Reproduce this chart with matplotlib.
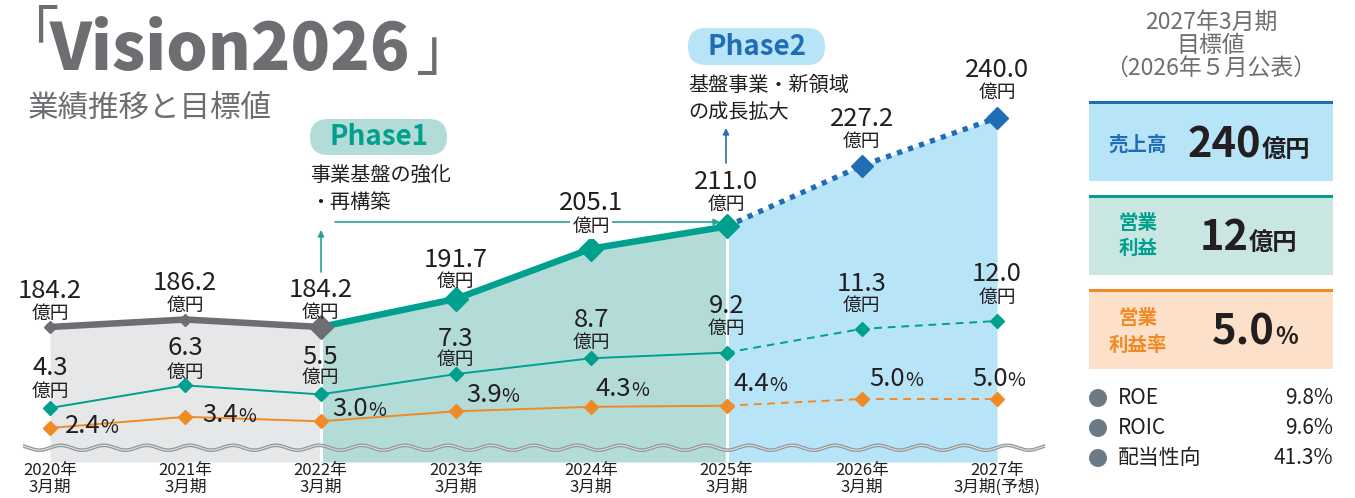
import numpy as np
import matplotlib
matplotlib.use('Agg')
import matplotlib.pyplot as plt
from matplotlib.patches import FancyBboxPatch, Rectangle, Circle
from matplotlib.transforms import IdentityTransform

plt.rcParams['font.family'] = ['Noto Sans CJK JP', 'DejaVu Sans']

W, H = 1355, 498

# data
periods = ['2020年\n3月期', '2021年\n3月期', '2022年\n3月期', '2023年\n3月期',
           '2024年\n3月期', '2025年\n3月期', '2026年\n3月期', '2027年\n3月期(予想)']
sales = [184.2, 186.2, 184.2, 191.7, 205.1, 211.0, 227.2, 240.0]
op_profit = [4.3, 6.3, 5.5, 7.3, 8.7, 9.2, 11.3, 12.0]
op_margin = [2.4, 3.4, 3.0, 3.9, 4.3, 4.4, 5.0, 5.0]

target_sales = '240'
target_profit = '12'
target_margin = '5.0'
kpi_names = ['ROE', 'ROIC', '配当性向']
kpi_values = ['9.8%', '9.6%', '41.3%']

# colours
GRAY = '#6d6e71'
TEXT = '#231f20'
TEAL = '#00a08e'
BLUE = '#1f6db4'
ORANGE = '#f08a24'
FILL_GRAY = '#e6e7e8'
FILL_TEAL = '#b3dcd8'
FILL_BLUE = '#b8e4f8'

fig = plt.figure(figsize=(W / 100, H / 100), dpi=100)
px = IdentityTransform()


def Y(p):
    return H - p


def rich(x, y, parts, ha='left'):
    """parts of different sizes on one baseline; x, y in pixels from top-left"""
    r = fig.canvas.get_renderer()
    arts = []
    for s, size, color, weight in parts:
        t = fig.text(0, 0, s, fontsize=size, color=color, fontweight=weight,
                     transform=px, va='baseline', ha='left')
        arts.append((t, t.get_window_extent(r).width))
    total = sum(w for _, w in arts)
    cx = x - {'left': 0, 'center': total / 2, 'right': total}[ha]
    for t, w in arts:
        t.set_position((cx, Y(y)))
        cx += w


# chart axes: one unit on x = one fiscal year
base = 148.2
ax = fig.add_axes([23 / W, 36 / H, 1022 / W, 462 / H])
ax.set_xlim(-27 / 135.3, 995 / 135.3)
ax.set_ylim(base, 271.4)
ax.patch.set_alpha(0)
for s in ax.spines.values():
    s.set_visible(False)
ax.set_yticks([])
ax.set_xticks(range(len(periods)), periods)
ax.tick_params(axis='x', length=0, pad=0, labelsize=12, labelcolor=TEXT)
for lab in ax.get_xticklabels():
    lab.set_linespacing(1.0)

ax_p = ax.twinx()
ax_p.set_ylim(-0.48, 40.4)
ax_p.axis('off')
ax_m = ax.twinx()
ax_m.set_ylim(-0.65, 40.79)
ax_m.axis('off')

x = np.arange(len(sales))

# areas under sales
ax.fill_between(x[:3], sales[:3], base, color=FILL_GRAY, lw=0, zorder=1)
ax.fill_between(x[2:6], sales[2:6], base, color=FILL_TEAL, lw=0, zorder=1)
ax.fill_between(x[5:], sales[5:], base, color=FILL_BLUE, lw=0, zorder=1)
ax.vlines([2, 5], base, [sales[2], sales[5]], color='white', lw=2.2, zorder=2)

# axis break wave
wx = np.linspace(-0.2, 7.35, 1500)
wy = 152.0 + 0.65 * np.sin(2 * np.pi * wx / 0.318)
ax.plot(wx, wy, color='#8f989d', lw=2.6, zorder=3)
ax.plot(wx, wy, color='#dfe2e4', lw=0.8, zorder=3)

# phase arrows (drawn in the chart so labels can sit on top)
arrow_teal = dict(arrowstyle='-|>', lw=1.2, color='#2aa196', mutation_scale=9, shrinkA=0, shrinkB=0)
arrow_blue = dict(arrowstyle='-|>', lw=1.2, color='#2a6fb0', mutation_scale=9, shrinkA=0, shrinkB=0)
ax.annotate('', xy=(321, Y(230)), xytext=(321, Y(272)), xycoords='figure pixels',
            arrowprops=arrow_teal, zorder=4)
ax.annotate('', xy=(720, Y(222)), xytext=(335, Y(222)), xycoords='figure pixels',
            arrowprops=arrow_teal, zorder=4)
ax.annotate('', xy=(726, Y(128)), xytext=(726, Y(163)), xycoords='figure pixels',
            arrowprops=arrow_blue, zorder=4)

# sales line
ax.plot(x[:3], sales[:3], color=GRAY, lw=4.7, zorder=5)
ax.plot(x[2:6], sales[2:6], color=TEAL, lw=4.7, zorder=5)
ax.plot(x[5:], sales[5:], color=BLUE, lw=3.8, ls=(0, (1, 1.2)), zorder=5)
ax.plot(x[:2], sales[:2], 'D', color=GRAY, ms=6.5, zorder=6)
ax.plot(x[2:3], sales[2:3], 'D', color=GRAY, ms=12, zorder=7)
ax.plot(x[3:6], sales[3:6], 'D', color=TEAL, ms=12, zorder=6)
ax.plot(x[6:], sales[6:], 'D', color=BLUE, ms=11.5, zorder=6)


def value_label(axis, i, v, num_lift, unit_lift, knockout=False):
    axis.annotate(f'{v:.1f}', (i, v), xytext=(0, num_lift), textcoords='offset pixels',
                  ha='center', va='baseline', fontsize=18.5, color=TEXT, zorder=8)
    bbox = dict(fc='white', ec='none', pad=1.5) if knockout else None
    axis.annotate('億円', (i, v), xytext=(0, unit_lift), textcoords='offset pixels',
                  ha='center', va='baseline', fontsize=13.5, color=TEXT, zorder=8, bbox=bbox)


sales_lift = [29, 30, 30, 32, 39, 37, 40, 41]
sales_unit = [8, 9, 9, 12, 17, 17, 19, 20]
for i, v in enumerate(sales):
    value_label(ax, i, v, sales_lift[i], sales_unit[i], knockout=(i == 4))

# operating profit
ax_p.plot(x[:6], op_profit[:6], color=TEAL, lw=1.4, zorder=5)
ax_p.plot(x[5:], op_profit[5:], color=TEAL, lw=1.4, ls=(0, (4, 3)), zorder=5)
ax_p.plot(x, op_profit, 'D', color=TEAL, ms=6.8, zorder=6)
p_lift = [33, 30, 30, 28, 31, 40, 38, 40]
p_unit = [11, 7, 11, 9, 10, 19, 18, 18]
for i, v in enumerate(op_profit):
    value_label(ax_p, i, v, p_lift[i], p_unit[i])

# operating margin
ax_m.plot(x[:6], op_margin[:6], color=ORANGE, lw=1.4, zorder=5)
ax_m.plot(x[5:], op_margin[5:], color=ORANGE, lw=1.4, ls=(0, (4, 3)), zorder=5)
ax_m.plot(x, op_margin, 'D', color=ORANGE, ms=7, zorder=6)
m_dx = [15, 17, 12, 10, 4, 7, 8, -25]
m_lift = [-5, -5, 5, 9, 11, 15, 13, 13]
for i, v in enumerate(op_margin):
    dx, dy = ax_m.transData.transform((i, v))
    rich(dx + m_dx[i], Y(dy) - m_lift[i],
         [(f'{v:.1f}', 18.5, TEXT, 'normal'), ('%', 14, TEXT, 'normal')])

# title
fig.text(0, Y(6), '「', transform=px, fontsize=42, color=GRAY, va='top', ha='left')
fig.text(50, Y(70), 'Vision2026', transform=px, fontsize=47, color=GRAY,
         fontweight='heavy', va='baseline', ha='left')
fig.text(416, Y(84), '」', transform=px, fontsize=42, color=GRAY, va='bottom', ha='left')
fig.text(28, Y(108), '業績推移と目標値', transform=px, fontsize=22, color=GRAY,
         va='center', ha='left')

# phase badges
for (x0, y0, x1, y1, fc, tc, label) in [(310, 119, 447, 155, FILL_TEAL, TEAL, 'Phase1'),
                                        (688, 28, 825, 65, FILL_BLUE, BLUE, 'Phase2')]:
    fig.add_artist(FancyBboxPatch((x0, Y(y1)), x1 - x0, y1 - y0, transform=px,
                                  boxstyle='round,pad=0,rounding_size=18', fc=fc, ec='none'))
    fig.text((x0 + x1) / 2, Y((y0 + y1) / 2), label, transform=px, fontsize=20,
             fontweight='bold', color=tc, ha='center', va='center')

fig.text(310, Y(175), '事業基盤の強化', transform=px, fontsize=14.5, color=TEXT, va='center')
fig.text(310, Y(202), '・再構築', transform=px, fontsize=14.5, color=TEXT, va='center')
fig.text(688, Y(85), '基盤事業・新領域', transform=px, fontsize=14.5, color=TEXT, va='center')
fig.text(688, Y(112), 'の成長拡大', transform=px, fontsize=14.5, color=TEXT, va='center')

# right panel: targets
for yy, s in [(22, '2027年3月期'), (45, '目標値'), (68, '（2026年５月公表）')]:
    fig.text(1211, Y(yy), s, transform=px, fontsize=16.5, color=GRAY, ha='center', va='center')

boxes = [(101, FILL_BLUE, BLUE), (195, '#c9e6e2', TEAL), (289, '#fde0c9', ORANGE)]
for top, fc, ec in boxes:
    fig.add_artist(Rectangle((1089, Y(top + 80)), 244, 80, transform=px, fc=fc, ec='none'))
    fig.add_artist(Rectangle((1089, Y(top + 3)), 244, 3, transform=px, fc=ec, ec='none'))

fig.text(1138, Y(145), '売上高', transform=px, fontsize=14, fontweight='bold', color=BLUE,
         ha='center', va='center')
rich(1188, 157, [(target_sales, 30, TEXT, 'bold'), ('億円', 17.5, TEXT, 'bold')])
fig.text(1138, Y(223), '営業', transform=px, fontsize=14, fontweight='bold', color=TEAL,
         ha='center', va='center')
fig.text(1138, Y(248), '利益', transform=px, fontsize=14, fontweight='bold', color=TEAL,
         ha='center', va='center')
rich(1200, 250, [(target_profit, 30, TEXT, 'bold'), ('億円', 17.5, TEXT, 'bold')])
fig.text(1138, Y(318), '営業', transform=px, fontsize=14, fontweight='bold', color=ORANGE,
         ha='center', va='center')
fig.text(1138, Y(345), '利益率', transform=px, fontsize=14, fontweight='bold', color=ORANGE,
         ha='center', va='center')
rich(1212, 344, [(target_margin, 30, TEXT, 'bold'), ('%', 17, TEXT, 'bold')])

for k, (name, val) in enumerate(zip(kpi_names, kpi_values)):
    yy = 398 + 30 * k
    fig.add_artist(Circle((1098, Y(yy)), 9, transform=px, fc='#6b7a85', ec='none'))
    fig.text(1118, Y(yy), name, transform=px, fontsize=15, color=TEXT, va='center')
    fig.text(1333, Y(yy), val, transform=px, fontsize=15, color=TEXT, va='center', ha='right')

fig.savefig('out.png', dpi=100)
